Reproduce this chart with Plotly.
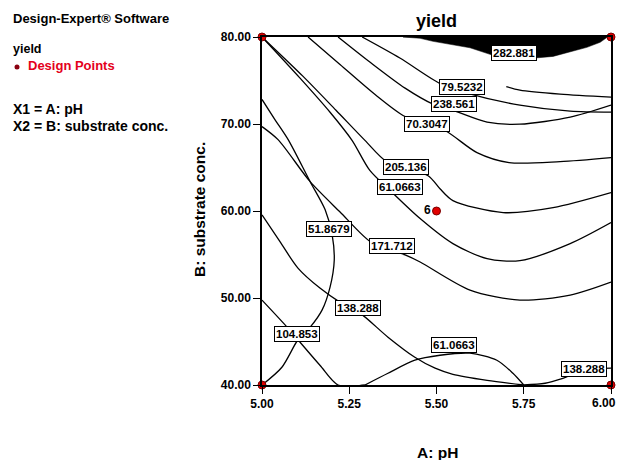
import plotly.graph_objects as go

# ---------------- data (A: pH, B: substrate conc.) ----------------
# Contour lines
c70_x = [5.132, 5.2235, 5.324, 5.410, 5.524, 5.616, 5.708, 5.854, 6.0]
c70_y = [80.0, 76.85, 73.40, 70.86, 69.25, 66.71, 65.56, 65.67, 66.13]

c238_x = [5.218, 5.309, 5.410, 5.490, 5.553, 5.645, 5.739, 5.883, 6.0]
c238_y = [80.0, 77.12, 74.12, 72.28, 71.48, 70.21, 69.98, 70.79, 72.17]

c79_x = [5.287, 5.395, 5.513, 5.587, 5.739, 5.883, 6.0]
c79_y = [80.0, 77.58, 74.58, 73.54, 72.16, 71.47, 71.36]

c61a_x = [5.0, 5.109, 5.195, 5.258, 5.309, 5.367, 5.453, 5.547, 5.645, 5.739, 5.883, 6.0]
c61a_y = [80.0, 75.27, 71.35, 68.12, 64.66, 62.36, 59.13, 56.25, 54.52, 54.29, 56.25, 58.67]

c205_x = [5.0, 5.117, 5.212, 5.295, 5.358, 5.476, 5.510, 5.547, 5.691, 5.834, 6.0]
c205_y = [80.0, 75.50, 71.58, 68.12, 65.65, 64.06, 62.56, 61.20, 59.82, 60.39, 62.12]

c171_x = [5.0, 5.046, 5.138, 5.223, 5.315, 5.410, 5.453, 5.596, 5.739, 5.883, 6.0]
c171_y = [69.70, 68.20, 63.37, 59.91, 56.33, 54.95, 54.14, 50.91, 49.76, 50.34, 51.84]

c51_x = [5.0, 5.037, 5.075, 5.138, 5.181, 5.201, 5.207, 5.195, 5.172, 5.138, 5.103, 5.057, 5.0]
c51_y = [72.82, 70.51, 68.20, 63.37, 60.14, 57.26, 54.35, 51.26, 48.61, 46.65, 45.20, 42.04, 40.0]

c104_x = [5.0, 5.072, 5.103, 5.166, 5.218, 5.295]
c104_y = [49.76, 46.65, 45.20, 42.27, 40.0, 40.0]

c138a_x = [5.0, 5.052, 5.103, 5.166, 5.223, 5.281, 5.361, 5.438, 5.496, 5.547, 5.645, 5.75]
c138a_y = [59.55, 56.44, 53.44, 51.14, 49.53, 48.26, 45.50, 43.19, 41.93, 41.23, 40.54, 40.0]

c61b_x = [5.295, 5.361, 5.438, 5.510, 5.596, 5.673, 5.719, 5.75]
c61b_y = [40.0, 41.35, 42.85, 43.42, 43.66, 42.85, 41.35, 40.0]

c138b_x = [5.75, 5.811, 5.862, 5.926, 6.0]
c138b_y = [40.0, 40.2, 40.77, 41.70, 41.93]

c282_x = [5.700, 5.739, 5.854, 6.0]
c282_y = [74.30, 73.89, 73.43, 73.08]

# black region (above the highest contour)
black_x = [5.404, 5.453, 5.490, 5.539, 5.596, 5.662, 5.739, 5.834, 5.931, 5.969, 5.989, 6.0, 5.404]
black_y = [80.0, 79.85, 79.50, 79.16, 78.76, 77.89, 77.43, 77.77, 78.81, 79.39, 79.96, 80.0, 80.0]

# contour labels
lab_text = ["282.881", "79.5232", "238.561", "70.3047", "205.136", "61.0663",
            "51.8679", "171.712", "138.288", "104.853", "61.0663", "138.288"]
lab_x = [5.722, 5.573, 5.550, 5.473, 5.413, 5.395, 5.192, 5.372, 5.275, 5.100, 5.550, 5.923]
lab_y = [78.18, 74.30, 72.30, 69.99, 65.04, 62.73, 57.89, 55.93, 48.90, 45.90, 44.58, 41.81]

# design points
dp_x = [5.0, 5.0, 6.0, 6.0, 5.5]
dp_y = [40.0, 80.0, 40.0, 80.0, 60.0]

x_ticks = [5.0, 5.25, 5.5, 5.75, 6.0]
x_tick_text = ["5.00", "5.25", "5.50", "5.75", "6.00"]
y_ticks = [40, 50, 60, 70, 80]
y_tick_text = ["40.00", "50.00", "60.00", "70.00", "80.00"]

FONT = "Liberation Sans, Arial, sans-serif"
TICKFONT = dict(family=FONT, size=12, color="black", weight="bold")

fig = go.Figure()

fig.add_trace(go.Scatter(x=black_x, y=black_y, mode="lines", fill="toself",
                         fillcolor="black", line=dict(width=0.5, color="black"),
                         hoverinfo="skip", showlegend=False))

lines = [(c70_x, c70_y), (c238_x, c238_y), (c79_x, c79_y), (c61a_x, c61a_y),
         (c205_x, c205_y), (c171_x, c171_y), (c51_x, c51_y), (c104_x, c104_y),
         (c138a_x, c138a_y), (c61b_x, c61b_y), (c138b_x, c138b_y), (c282_x, c282_y)]
for lx, ly in lines:
    fig.add_trace(go.Scatter(x=lx, y=ly, mode="lines",
                             line=dict(color="black", width=1.3, shape="spline", smoothing=0.8),
                             hoverinfo="skip", showlegend=False, cliponaxis=True))

fig.add_trace(go.Scatter(x=dp_x, y=dp_y, mode="markers",
                         marker=dict(size=8, color="#e00000", line=dict(color="#7a0000", width=1)),
                         showlegend=False, cliponaxis=False))

annotations = []
for t, ax_, ay_ in zip(lab_text, lab_x, lab_y):
    annotations.append(dict(x=ax_, y=ay_, xref="x", yref="y", text=t, showarrow=False,
                            font=dict(family=FONT, size=11.5, color="black", weight="bold"),
                            bgcolor="white", bordercolor="black", borderwidth=1, borderpad=1))

# replicate count label at centre point
annotations.append(dict(x=dp_x[4], y=dp_y[4], xref="x", yref="y", text="6", showarrow=False,
                        xanchor="right", xshift=-4, yshift=1,
                        font=dict(family=FONT, size=12, color="black", weight="bold")))

# last x tick label, nudged left so it stays inside the page (as in the reference)
annotations.append(dict(x=x_ticks[-1], y=0, xref="x", yref="paper", text=x_tick_text[-1],
                        showarrow=False, xanchor="right", yanchor="top", xshift=7, yshift=-9,
                        font=TICKFONT))

def pan(px, py, text, size, color="black", xanchor="left", angle=0):
    return dict(x=(px - 262) / 349, y=(385 - py) / 348, xref="paper", yref="paper",
                text=text, showarrow=False, xanchor=xanchor, yanchor="middle",
                textangle=angle,
                font=dict(family=FONT, size=size, color=color, weight="bold"))

annotations += [
    pan(11, 18, "Design-Expert® Software", 13),
    pan(11, 49, "yield", 12.5),
    pan(26, 65, "Design Points", 13, color="#e4001b"),
    pan(11, 109, "X1 = A: pH", 14),
    pan(11, 126, "X2 = B: substrate conc.", 14),
    pan(436, 21, "yield", 18, xanchor="center"),
    pan(437, 452, "A: pH", 15.5, xanchor="center"),
    pan(199, 210, "B: substrate conc.", 15.5, xanchor="center", angle=-90),
]

shapes = [dict(type="circle", xref="paper", yref="paper",
               x0=(14.5 - 262) / 349, x1=(19.5 - 262) / 349,
               y0=(385 - 69.5) / 348, y1=(385 - 64.5) / 348,
               fillcolor="#8a0010", line=dict(width=0))]

axis_common = dict(showgrid=False, zeroline=False, showline=True, linecolor="black",
                   linewidth=1.5, mirror=True, ticks="outside", ticklen=7,
                   tickcolor="black", tickwidth=1.3, automargin=False,
                   ticklabeloverflow="allow", tickfont=TICKFONT)

fig.update_layout(
    width=620, height=460,
    margin=dict(l=262, r=9, t=37, b=75, autoexpand=False),
    paper_bgcolor="white", plot_bgcolor="white",
    showlegend=False,
    annotations=annotations,
    shapes=shapes,
    xaxis=dict(range=[5, 6], tickvals=x_ticks, ticktext=x_tick_text[:-1] + [""], **axis_common),
    yaxis=dict(range=[40, 80], tickvals=y_ticks, ticktext=y_tick_text, **axis_common),
)

fig.write_html("out.html", config={"displayModeBar": False},
               post_script="document.body.style.margin='0';document.body.style.overflow='hidden';")
